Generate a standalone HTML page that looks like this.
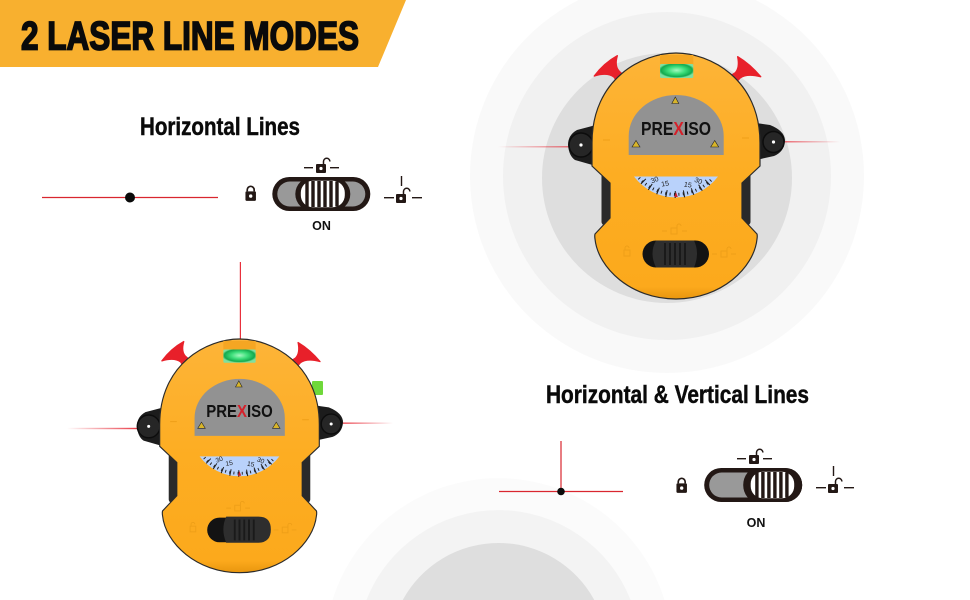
<!DOCTYPE html>
<html>
<head>
<meta charset="utf-8">
<style>
html,body{margin:0;padding:0;background:#fff;width:970px;height:600px;overflow:hidden}
svg{display:block}
text{font-family:"Liberation Sans",sans-serif}
</style>
</head>
<body>
<svg width="970" height="600" viewBox="0 0 970 600" xmlns="http://www.w3.org/2000/svg">
<defs>
<linearGradient id="fadeL" x1="0" x2="1" y1="0" y2="0"><stop offset="0" stop-color="#e8303c" stop-opacity="0"/><stop offset="1" stop-color="#e8303c"/></linearGradient>
<linearGradient id="fadeR" x1="0" x2="1" y1="0" y2="0"><stop offset="0" stop-color="#e8303c"/><stop offset="1" stop-color="#e8303c" stop-opacity="0"/></linearGradient>
<radialGradient id="vial" cx=".5" cy=".45" r=".55"><stop offset="0" stop-color="#a6f7c0"/><stop offset=".45" stop-color="#3fe07c"/><stop offset=".85" stop-color="#12a94e"/><stop offset="1" stop-color="#7fe0a0"/></radialGradient>
<linearGradient id="yel" x1="0" x2="0" y1="0" y2="1"><stop offset="0" stop-color="#fdb438"/><stop offset="0.5" stop-color="#fdad22"/><stop offset="0.95" stop-color="#fca91c"/><stop offset="1" stop-color="#e8960e"/></linearGradient>
</defs>

<!-- background rings -->
<path d="M578.5 0 A197 197 0 1 0 755.5 0Z" fill="#f9f9f9"/>
<circle cx="667" cy="176" r="164" fill="#f1f1f1"/>
<circle cx="667" cy="178" r="125" fill="#dedede"/>
<path d="M332.5 600 A174 174 0 0 1 664.5 600Z" fill="#fbfbfb"/>
<path d="M366.4 600 A142 142 0 0 1 630.6 600Z" fill="#f3f3f3"/>
<path d="M402.7 600 A109 109 0 0 1 594.3 600Z" fill="#dedede"/>

<!-- header -->
<polygon points="0,0 406,0 378,67 0,67" fill="#f8b02f"/>
<text x="21" y="49.6" font-size="39.5" font-weight="700" fill="#0a0a0a" stroke="#0a0a0a" stroke-width="1.7" textLength="338" lengthAdjust="spacingAndGlyphs">2 LASER LINE MODES</text>

<!-- headings -->
<text x="140" y="135" font-size="25" font-weight="700" fill="#0a0a0a" stroke="#0a0a0a" stroke-width=".45" textLength="160" lengthAdjust="spacingAndGlyphs">Horizontal Lines</text>
<text x="546" y="403" font-size="25" font-weight="700" fill="#0a0a0a" stroke="#0a0a0a" stroke-width=".45" textLength="263" lengthAdjust="spacingAndGlyphs">Horizontal &amp; Vertical Lines</text>

<!-- line symbols -->
<line x1="42" y1="197.5" x2="218" y2="197.5" stroke="#d9262f" stroke-width="1.2"/>
<circle cx="130" cy="197.5" r="5" fill="#0a0a0a"/>
<line x1="499" y1="491.5" x2="623" y2="491.5" stroke="#d9262f" stroke-width="1.2"/>
<line x1="561" y1="441" x2="561" y2="491" stroke="#d9262f" stroke-width="1.2"/>
<circle cx="561" cy="491.5" r="3.8" fill="#0a0a0a"/>

<!-- switch 1 -->
<g transform="translate(321.3,194)">
  <rect x="-49" y="-17" width="98" height="34" rx="17" fill="#231815"/>
  <rect x="-44" y="-12.5" width="88" height="25" rx="12.5" fill="#999"/>
  <rect x="-26" y="-17" width="55" height="34" rx="17" fill="#231815"/>
  <rect x="-20.5" y="-13.3" width="44" height="26.6" rx="12" fill="#fff"/>
  <g fill="#231815"><rect x="-16" y="-12.5" width="3.4" height="25"/><rect x="-10" y="-13" width="3.4" height="26"/><rect x="-4" y="-13" width="3.4" height="26"/><rect x="2" y="-13" width="3.4" height="26"/><rect x="8" y="-13" width="3.4" height="26"/><rect x="14" y="-12.5" width="3.4" height="25"/></g>
</g>
<text x="321.5" y="230" font-size="12.5" font-weight="700" text-anchor="middle" fill="#111">ON</text>
<g transform="translate(250.7,194) scale(1.05)" fill="#231815"><rect x="-5" y="-2.5" width="10" height="9" rx="1"/><path d="M-3.3 -2.5V-4a3.3 3.3 0 0 1 6.6 0V-2.5" fill="none" stroke="#231815" stroke-width="1.6"/><circle cx="0" cy="2" r="1.6" fill="#fff"/></g>
<g transform="translate(321,167)" fill="#231815"><rect x="-5" y="-3" width="10" height="9" rx="1"/><path d="M2.5 -3V-5.5a3.2 3.2 0 0 1 6.4 0" fill="none" stroke="#231815" stroke-width="1.5"/><circle cx="0" cy="1.5" r="1.6" fill="#fff"/><rect x="-17" y="0" width="9" height="1.4"/><rect x="9" y="0" width="9" height="1.4"/></g>
<g transform="translate(401,197)" fill="#231815"><rect x="-5" y="-3" width="10" height="9" rx="1"/><path d="M2.5 -3V-5.5a3.2 3.2 0 0 1 6.4 0" fill="none" stroke="#231815" stroke-width="1.5"/><circle cx="0" cy="1.5" r="1.6" fill="#fff"/><rect x="-17" y="0" width="10" height="1.4"/><rect x="11" y="0" width="10" height="1.4"/><rect x="-0.2" y="-21" width="1.4" height="10"/></g>

<!-- switch 2 -->
<g transform="translate(753.2,485)">
  <rect x="-49" y="-17" width="98" height="34" rx="17" fill="#231815"/>
  <rect x="-44" y="-12.5" width="88" height="25" rx="12.5" fill="#999"/>
  <path d="M4 -17H32a17 17 0 0 1 0 34H4a14 17 0 0 1 0-34Z" fill="#231815"/>
  <rect x="-2.5" y="-13.3" width="43.5" height="26.6" rx="12" fill="#fff"/>
  <g fill="#231815"><rect x="2" y="-12.5" width="3.4" height="25"/><rect x="8" y="-13" width="3.4" height="26"/><rect x="14" y="-13" width="3.4" height="26"/><rect x="20" y="-13" width="3.4" height="26"/><rect x="26" y="-13" width="3.4" height="26"/><rect x="32" y="-12.5" width="3.4" height="25"/></g>
</g>
<text x="756" y="527" font-size="12.5" font-weight="700" text-anchor="middle" fill="#111">ON</text>
<g transform="translate(681.7,486) scale(1.05)" fill="#231815"><rect x="-5" y="-2.5" width="10" height="9" rx="1"/><path d="M-3.3 -2.5V-4a3.3 3.3 0 0 1 6.6 0V-2.5" fill="none" stroke="#231815" stroke-width="1.6"/><circle cx="0" cy="2" r="1.6" fill="#fff"/></g>
<g transform="translate(754,458)" fill="#231815"><rect x="-5" y="-3" width="10" height="9" rx="1"/><path d="M2.5 -3V-5.5a3.2 3.2 0 0 1 6.4 0" fill="none" stroke="#231815" stroke-width="1.5"/><circle cx="0" cy="1.5" r="1.6" fill="#fff"/><rect x="-17" y="0" width="9" height="1.4"/><rect x="9" y="0" width="9" height="1.4"/></g>
<g transform="translate(833,487)" fill="#231815"><rect x="-5" y="-3" width="10" height="9" rx="1"/><path d="M2.5 -3V-5.5a3.2 3.2 0 0 1 6.4 0" fill="none" stroke="#231815" stroke-width="1.5"/><circle cx="0" cy="1.5" r="1.6" fill="#fff"/><rect x="-17" y="0" width="10" height="1.4"/><rect x="11" y="0" width="10" height="1.4"/><rect x="-0.2" y="-21" width="1.4" height="10"/></g>

<!-- lasers -->
<rect x="498" y="146.2" width="90" height="1.2" fill="url(#fadeL)"/>
<rect x="775" y="141.2" width="65" height="1.2" fill="url(#fadeR)"/>
<rect x="67" y="427.8" width="75" height="1.4" fill="url(#fadeL)"/>
<rect x="340" y="422.5" width="53" height="1.3" fill="url(#fadeR)"/>
<rect x="239.8" y="262" width="1.2" height="80" fill="#e8303c"/>

<!-- top device -->
<g transform="translate(676,53)">
  <path d="M-81.7 23 Q-72 10 -58.7 2.7 Q-62 14 -56 19 L-47 27 L-56 33 L-62 24 Q-69 19 -81.7 23Z" fill="#e8202a" stroke="#e8202a" stroke-width="1.4" stroke-linejoin="round"/>
  <path d="M84.7 23.7 Q74 11 61.7 3.7 Q64 15 59 20 L48 27 L56 34 L64 25 Q71 20 84.7 23.7Z" fill="#e8202a" stroke="#e8202a" stroke-width="1.4" stroke-linejoin="round"/>
  <path d="M-80 72 L-99 77 Q-108 82 -108 92 Q-107 103 -101 107 L-80 113Z" fill="#1c1c1c"/>
  <path d="M80 70 L94 72 Q109 78 109 88 Q108 99 98 103 L80 107Z" fill="#1c1c1c"/>
  <circle cx="-95" cy="92" r="12" fill="#262626" stroke="#0c0c0c" stroke-width="1.5"/><circle cx="-95" cy="92" r="1.6" fill="#fff"/>
  <circle cx="97.5" cy="89" r="10.5" fill="#262626" stroke="#0c0c0c" stroke-width="1.5"/><circle cx="97.5" cy="89" r="1.6" fill="#fff"/>
  <rect x="-74.5" y="120" width="149" height="52" rx="3" fill="#2a2a2a"/>
  <path d="M0 0 C34 0 84 26 84 90 L84 113 L66 130 L66 165 L81 181 Q81.5 183 81 186 C78 215 45 246 0 246 C-45 246 -78 215 -81 186 Q-81.5 183 -81 181 L-66 165 L-66 130 L-84 113 L-84 90 C-84 26 -34 0 0 0Z" fill="url(#yel)" stroke="#2b2b2b" stroke-width="1.2"/>
  <rect x="-16" y="2" width="33.3" height="9" fill="#f5a623"/>
  <rect x="-16" y="11" width="33.3" height="14" rx="1.5" fill="url(#vial)"/>
  <path d="M-47.3 102 V83 A47.5 41 0 0 1 47.7 83 V102Z" fill="#929292"/>
  <polygon points="-.7,44 -4.2,50.5 2.8,50.5" fill="#d8b52a" stroke="#222" stroke-width=".6"/>
  <polygon points="-40,87.5 -44,94 -36,94" fill="#d8b52a" stroke="#222" stroke-width=".6"/>
  <polygon points="38.7,87.5 34.7,94 42.7,94" fill="#d8b52a" stroke="#222" stroke-width=".6"/>
  <text x="-35" y="82" font-size="18.5" font-weight="700" fill="#111" textLength="70" lengthAdjust="spacingAndGlyphs">PRE<tspan fill="#d5202a">X</tspan>ISO</text>
  <path d="M-42 123.5 H42 A52.5 52.5 0 0 1 -42 123.5Z" fill="#b9d2fb"/>
  <path d="M-37 125 A50 50 0 0 0 37 125" fill="none" stroke="#222" stroke-width="3" stroke-dasharray="1 3.4"/>
  <path d="M-33 128 A47 47 0 0 0 33 128" fill="none" stroke="#222" stroke-width="7" stroke-dasharray="1.1 7.7"/>
  <polygon points="0,139 -1.8,144 1.8,144" fill="#c8202f"/>
  <g font-size="7" fill="#222" text-anchor="middle"><text x="-20.5" y="129" transform="rotate(-22 -20.5 129)">30</text><text x="-10.5" y="133" transform="rotate(-10 -10.5 133)">15</text><text x="11.5" y="134" transform="rotate(10 11.5 134)">15</text><text x="21.5" y="130" transform="rotate(22 21.5 130)">30</text></g>
  <g fill="none" stroke="#ee9f18" stroke-width="1"><rect x="-5" y="175" width="6" height="6"/><path d="M1 175v-2a2 2 0 0 1 4 0"/><rect x="-52" y="197" width="6" height="6"/><path d="M-51 197v-2a2 2 0 0 1 4 0"/><rect x="45" y="198" width="6" height="6"/><path d="M51 198v-2a2 2 0 0 1 4 0"/><path d="M-73 87h7M66 85h7M-14 178h5M6 178h5M36 201h5M55 201h5"/></g>
  <rect x="-33.5" y="187.5" width="66.5" height="27" rx="13.5" fill="#131313"/>
  <path d="M-20 187.5 H18 Q24 200 18 214.5 H-20 Q-27 200 -20 187.5Z" fill="#2e2e2e"/>
  <g fill="#1a1a1a"><rect x="-12" y="190" width="2" height="22"/><rect x="-7" y="190" width="2" height="22"/><rect x="-2" y="190" width="2" height="22"/><rect x="3" y="190" width="2" height="22"/><rect x="8" y="190" width="2" height="22"/></g>
</g>

<!-- bottom device -->
<rect x="312" y="381" width="11" height="14" rx="1" fill="#6fd83a"/>
<g transform="translate(239.5,339) scale(.95)">
  <path d="M-81.7 23 Q-72 10 -58.7 2.7 Q-62 14 -56 19 L-47 27 L-56 33 L-62 24 Q-69 19 -81.7 23Z" fill="#e8202a" stroke="#e8202a" stroke-width="1.4" stroke-linejoin="round"/>
  <path d="M84.7 23.7 Q74 11 61.7 3.7 Q64 15 59 20 L48 27 L56 34 L64 25 Q71 20 84.7 23.7Z" fill="#e8202a" stroke="#e8202a" stroke-width="1.4" stroke-linejoin="round"/>
  <path d="M-80 72 L-99 77 Q-108 82 -108 92 Q-107 103 -101 107 L-80 113Z" fill="#1c1c1c"/>
  <path d="M80 70 L94 72 Q109 78 109 88 Q108 99 98 103 L80 107Z" fill="#1c1c1c"/>
  <circle cx="-95.6" cy="92" r="12" fill="#262626" stroke="#0c0c0c" stroke-width="1.5"/><circle cx="-95.6" cy="92" r="1.6" fill="#fff"/>
  <circle cx="96.5" cy="89.5" r="10.5" fill="#262626" stroke="#0c0c0c" stroke-width="1.5"/><circle cx="96.5" cy="89.5" r="1.6" fill="#fff"/>
  <rect x="-74.5" y="120" width="149" height="52" rx="3" fill="#2a2a2a"/>
  <path d="M0 0 C34 0 84 26 84 90 L84 113 L66 130 L66 165 L81 181 Q81.5 183 81 186 C78 215 45 246 0 246 C-45 246 -78 215 -81 186 Q-81.5 183 -81 181 L-66 165 L-66 130 L-84 113 L-84 90 C-84 26 -34 0 0 0Z" fill="url(#yel)" stroke="#2b2b2b" stroke-width="1.2"/>
  <rect x="-17" y="2" width="34" height="9" fill="#f5a623"/>
  <rect x="-17" y="11" width="34" height="14" rx="1.5" fill="url(#vial)"/>
  <path d="M-47.3 102 V83 A47.5 41 0 0 1 47.7 83 V102Z" fill="#929292"/>
  <polygon points="-.7,44 -4.2,50.5 2.8,50.5" fill="#d8b52a" stroke="#222" stroke-width=".6"/>
  <polygon points="-40,87.5 -44,94 -36,94" fill="#d8b52a" stroke="#222" stroke-width=".6"/>
  <polygon points="38.7,87.5 34.7,94 42.7,94" fill="#d8b52a" stroke="#222" stroke-width=".6"/>
  <text x="-35" y="82" font-size="18.5" font-weight="700" fill="#111" textLength="70" lengthAdjust="spacingAndGlyphs">PRE<tspan fill="#d5202a">X</tspan>ISO</text>
  <path d="M-42 123.5 H42 A52.5 52.5 0 0 1 -42 123.5Z" fill="#b9d2fb"/>
  <path d="M-37 125 A50 50 0 0 0 37 125" fill="none" stroke="#222" stroke-width="3" stroke-dasharray="1 3.4"/>
  <path d="M-33 128 A47 47 0 0 0 33 128" fill="none" stroke="#222" stroke-width="7" stroke-dasharray="1.1 7.7"/>
  <polygon points="0,139 -1.8,144 1.8,144" fill="#c8202f"/>
  <g font-size="7" fill="#222" text-anchor="middle"><text x="-20.5" y="129" transform="rotate(-22 -20.5 129)">30</text><text x="-10.5" y="133" transform="rotate(-10 -10.5 133)">15</text><text x="11.5" y="134" transform="rotate(10 11.5 134)">15</text><text x="21.5" y="130" transform="rotate(22 21.5 130)">30</text></g>
  <g fill="none" stroke="#ee9f18" stroke-width="1"><rect x="-5" y="175" width="6" height="6"/><path d="M1 175v-2a2 2 0 0 1 4 0"/><rect x="-52" y="197" width="6" height="6"/><path d="M-51 197v-2a2 2 0 0 1 4 0"/><rect x="45" y="198" width="6" height="6"/><path d="M51 198v-2a2 2 0 0 1 4 0"/><path d="M-73 87h7M66 85h7M-14 178h5M6 178h5M36 201h5M55 201h5"/></g>
  <rect x="-34" y="188" width="66" height="26" rx="13" fill="#131313"/>
  <path d="M-14 187 H20 Q33 187 33 200.5 Q33 214 20 214.5 H-14 Q-20 200 -14 187Z" fill="#2e2e2e"/>
  <g fill="#1a1a1a"><rect x="-6" y="190" width="2" height="22"/><rect x="-1" y="190" width="2" height="22"/><rect x="4" y="190" width="2" height="22"/><rect x="9" y="190" width="2" height="22"/><rect x="14" y="190" width="2" height="22"/></g>
</g>
</svg>
</body>
</html>
